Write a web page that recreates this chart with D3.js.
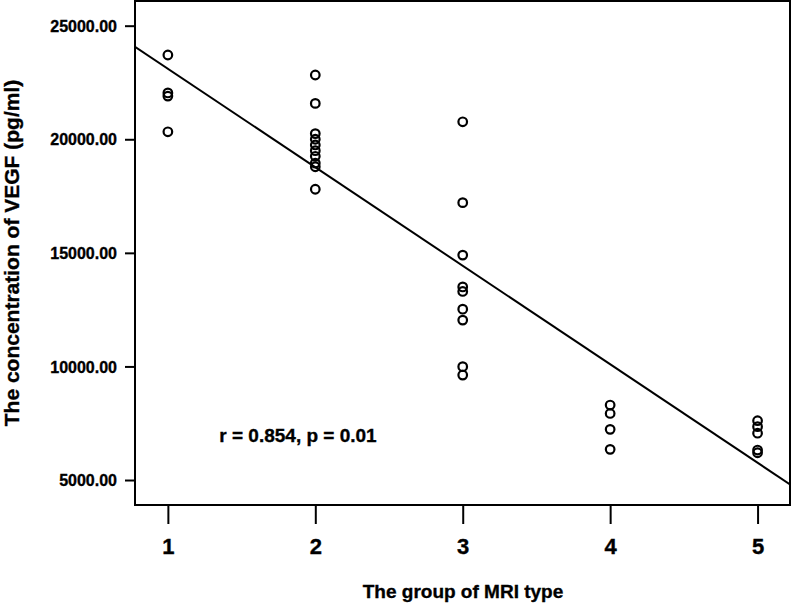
<!DOCTYPE html>
<html><head><meta charset="utf-8">
<script src="https://cdn.jsdelivr.net/npm/d3@7"></script>
<style>body{margin:0;background:#fff}svg{display:block}text{font-family:"Liberation Sans",Arial,sans-serif;font-weight:bold;fill:#000;stroke:#000;stroke-width:0.35px}</style>
</head><body>
<script>
const groups = [1, 2, 3, 4, 5];
const group1 = [23710, 22040, 21900, 20330];
const group2 = [22830, 21580, 20250, 20000, 19750, 19500, 19250, 18950, 18790, 17800];
const group3 = [20770, 17210, 14900, 13500, 13300, 12520, 12040, 9990, 9620];
const group4 = [8300, 7930, 7230, 6350];
const group5 = [7610, 7350, 7060, 6320, 6200];
const yTicks = [5000, 10000, 15000, 20000, 25000];
const fit = {intercept: 27439, slope: -4336};
const annotation = "r = 0.854, p = 0.01";
const xTitle = "The group of MRI type";
const yTitle = "The concentration of VEGF (pg/ml)";

const W = 792, H = 606;
const L = 135, R = 790, T = 1, B = 505;
const svg = d3.select("body").append("svg").attr("width", W).attr("height", H);
const x = d3.scaleLinear().domain([0.777, 5.22]).range([L, R]);
const y = d3.scaleLinear().domain([3900, 26131]).range([B, 0]);

const pts = [];
[group1, group2, group3, group4, group5].forEach((arr, i) => arr.forEach(v => pts.push({g: groups[i], v})));

svg.append("clipPath").attr("id","c").append("rect").attr("x",L).attr("y",T).attr("width",R-L).attr("height",B-T);
const gx0 = x.domain()[0], gx1 = x.domain()[1];
svg.append("line").attr("clip-path","url(#c)")
  .attr("x1", x(gx0)).attr("y1", y(fit.intercept + fit.slope*gx0))
  .attr("x2", x(gx1)).attr("y2", y(fit.intercept + fit.slope*gx1))
  .attr("stroke","#000").attr("stroke-width",2);

svg.selectAll("circle.p").data(pts).join("circle").attr("class","p")
  .attr("cx", d => x(d.g)).attr("cy", d => y(d.v)).attr("r", 4.3)
  .attr("fill","none").attr("stroke","#000").attr("stroke-width",2.2);

svg.append("rect").attr("x",L).attr("y",T).attr("width",R-L).attr("height",B-T)
  .attr("fill","none").attr("stroke","#000").attr("stroke-width",2);

const ya = svg.append("g").attr("transform",`translate(${L},0)`)
  .call(d3.axisLeft(y).tickValues(yTicks).tickSize(10).tickPadding(8).tickFormat(d3.format(".2f")));
ya.select(".domain").remove();
ya.selectAll("line").attr("stroke-width",2);
ya.selectAll("text").style("font-size","16px").attr("dy","0.35em");

const xa = svg.append("g").attr("transform",`translate(0,${B})`)
  .call(d3.axisBottom(x).tickValues(groups).tickSize(19).tickPadding(14).tickFormat(d3.format("d")));
xa.select(".domain").remove();
xa.selectAll("line").attr("stroke-width",2);
xa.selectAll("text").style("font-size","22px");

svg.append("text").attr("x", 298).attr("y", 442).attr("text-anchor","middle")
  .style("font-size","19px").text(annotation);
svg.append("text").attr("x", 463).attr("y", 598).attr("text-anchor","middle")
  .style("font-size","19px").text(xTitle);
svg.append("text").attr("transform","translate(18.5,253) rotate(-90)").attr("text-anchor","middle")
  .style("font-size","21px").text(yTitle);
</script>
</body></html>
